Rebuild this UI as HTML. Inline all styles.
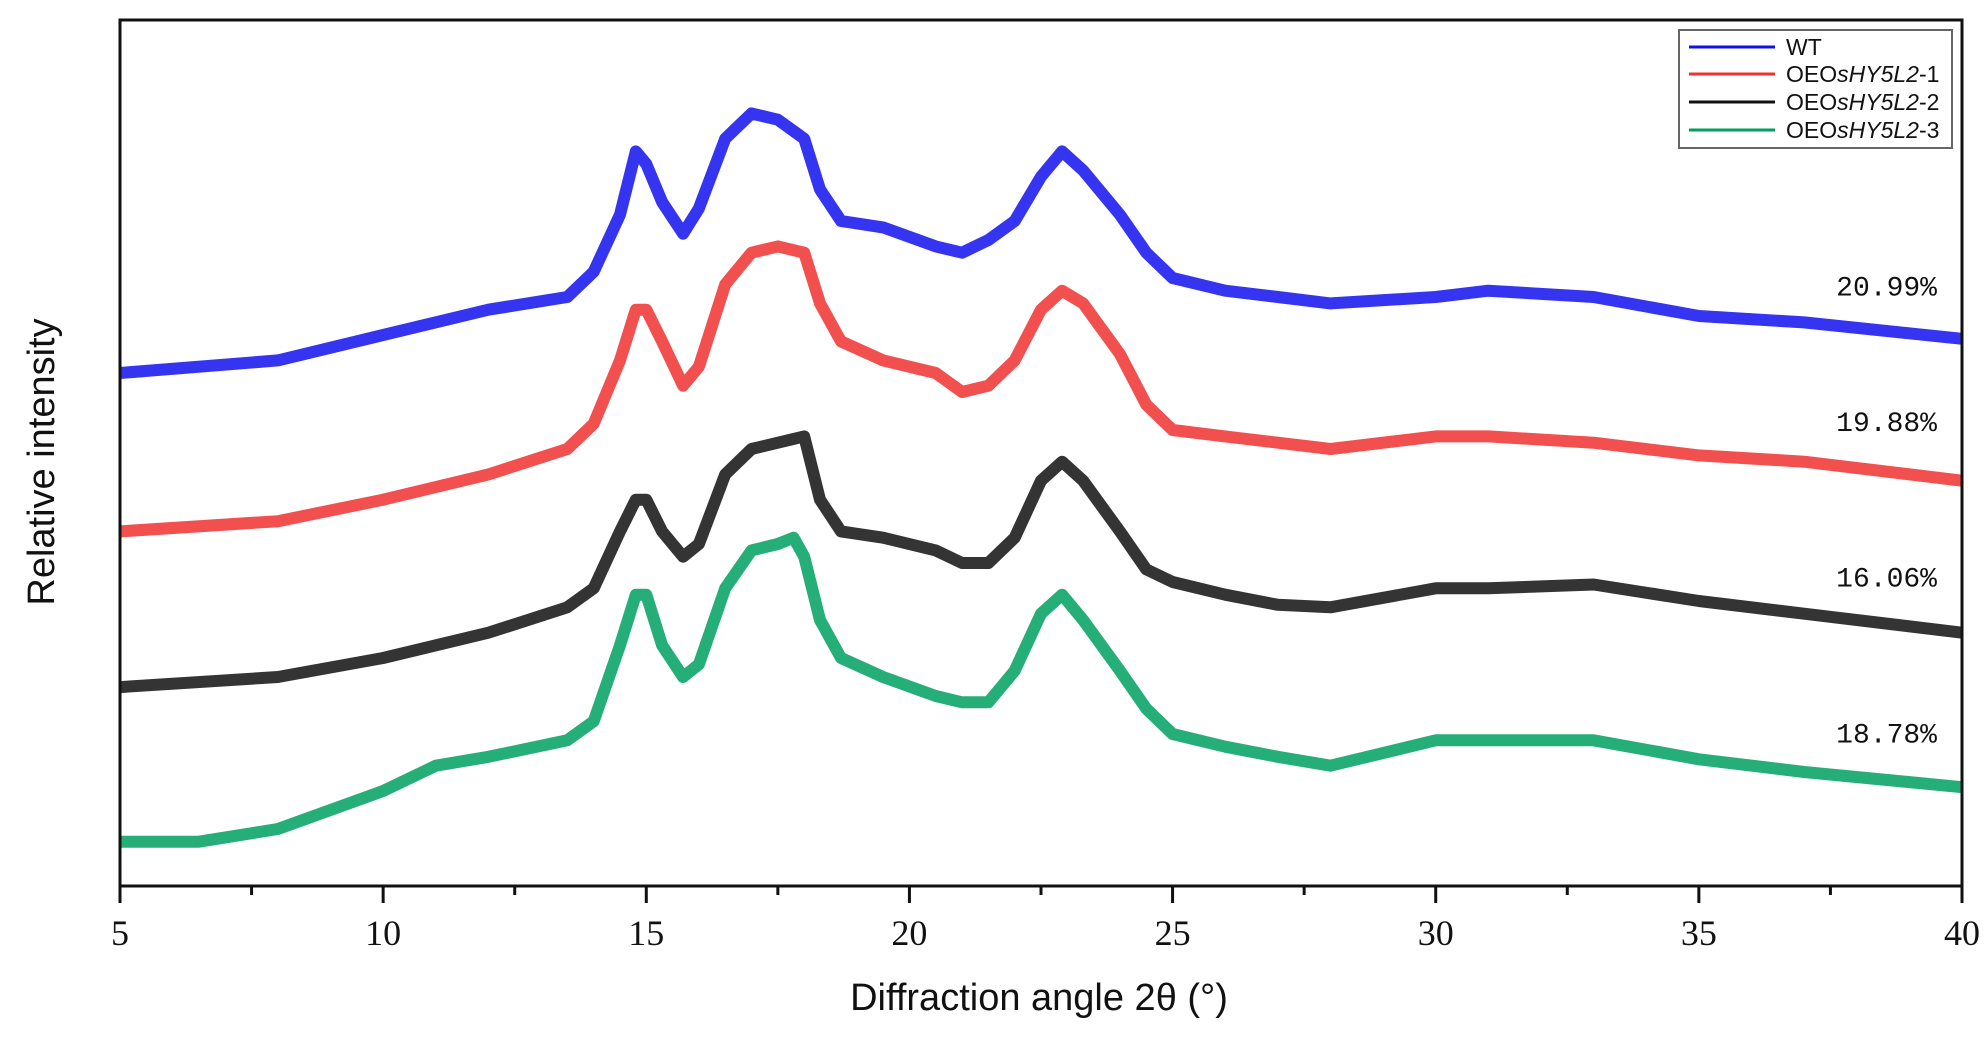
<!DOCTYPE html>
<html><head><meta charset="utf-8"><style>
html,body{margin:0;padding:0;background:#fff;}
svg{display:block;}
</style></head><body>
<svg id="chart" width="1986" height="1037" viewBox="0 0 1986 1037" xmlns="http://www.w3.org/2000/svg">
<rect x="0" y="0" width="1986" height="1037" fill="#fff"/>
<g id="series"></g>
<rect x="120" y="20" width="1842" height="866" fill="none" stroke="#111" stroke-width="3"/>
<g id="xaxis"></g>
<text x="1039" y="1010" font-family="Liberation Sans, sans-serif" font-size="38" text-anchor="middle" fill="#111">Diffraction angle 2θ (°)</text>
<text transform="translate(54,462) rotate(-90)" font-family="Liberation Sans, sans-serif" font-size="38" text-anchor="middle" fill="#111">Relative intensity</text>
<g id="labels"></g>
<g>
<rect x="1679" y="30" width="273" height="118" fill="#fff" stroke="#666" stroke-width="2"/>
<g font-family="Liberation Sans, sans-serif" font-size="23" fill="#111">
<line x1="1689" y1="47" x2="1775" y2="47" stroke="#1010ee" stroke-width="3"/>
<text x="1786" y="55">WT</text>
<line x1="1689" y1="74" x2="1775" y2="74" stroke="#f03030" stroke-width="3"/>
<text x="1786" y="82">OEO<tspan font-style="italic">sHY5L2</tspan>-1</text>
<line x1="1689" y1="102" x2="1775" y2="102" stroke="#111" stroke-width="3"/>
<text x="1786" y="110">OEO<tspan font-style="italic">sHY5L2</tspan>-2</text>
<line x1="1689" y1="130" x2="1775" y2="130" stroke="#00a060" stroke-width="3"/>
<text x="1786" y="138">OEO<tspan font-style="italic">sHY5L2</tspan>-3</text>
</g></g>
</svg>
<script>
const angles = [5,8,10,12,13.5,14,14.5,14.8,15,15.3,15.7,16,16.5,17,17.5,18,18.3,18.7,19.5,20.5,21,21.5,22,22.5,22.9,23.3,24,24.5,25,26,27,28,30,31,33,35,37,40];
const wtValues = [405,415,435,455,465,485,530,580,570,540,515,535,590,610,605,590,550,525,520,505,500,510,525,560,580,565,530,500,480,470,465,460,465,470,465,450,445,432];
const oe1Values = [280,288,305,325,345,365,415,455,455,430,395,410,475,500,505,500,460,430,415,405,390,395,415,455,470,460,420,380,360,355,350,345,355,355,350,340,335,320];
const oe2Values = [157,165,180,200,220,235,280,305,305,280,260,270,325,345,350,355,305,280,275,265,255,255,275,320,335,320,280,250,240,230,222,220,235,235,238,225,215,200];
const oe3Angles = [5,6.5,8,9,10,11,12,13.5,14,14.5,14.8,15,15.3,15.7,16,16.5,17,17.5,17.8,18,18.3,18.7,19.5,20.5,21,21.5,22,22.5,22.9,23.3,24,24.5,25,26,27,28,30,31,33,35,37,40];
const oe3Values = [35,35,45,60,75,95,102,115,130,190,230,230,190,165,175,235,265,270,275,260,210,180,165,150,145,145,170,215,230,210,170,140,120,110,102,95,115,115,115,100,90,78];
const xTicks = [5,10,15,20,25,30,35,40];
const pctLabels = ["20.99%","19.88%","16.06%","18.78%"];
const pctValues = [475,368,245,122];

const X0=120,X1=1962,Y0=886;
function xs(a){return X0+(a-5)/(40-5)*(X1-X0);}
function ys(v){return Y0-v*1.2666;}
const NS="http://www.w3.org/2000/svg";
const sg=document.getElementById('series');
const defs=[["wt",angles,wtValues,"#1010ee"],["oe1",angles,oe1Values,"#f03030"],["oe2",angles,oe2Values,"#111111"],["oe3",oe3Angles,oe3Values,"#00a060"]];
defs.forEach(d=>{
  const p=document.createElementNS(NS,'polyline');
  p.setAttribute('points',d[1].map((a,i)=>xs(a).toFixed(1)+','+ys(d[2][i]).toFixed(1)).join(' '));
  p.setAttribute('fill','none');p.setAttribute('stroke',d[3]);p.setAttribute('stroke-width','12');
  p.setAttribute('stroke-linejoin','round');p.setAttribute('stroke-opacity','0.85');
  
  
  sg.appendChild(p);
});
const xa=document.getElementById('xaxis');
for(let t=5;t<=40;t+=2.5){
  const major=(t%5===0);
  const l=document.createElementNS(NS,'line');
  l.setAttribute('x1',xs(t));l.setAttribute('x2',xs(t));
  l.setAttribute('y1',Y0);l.setAttribute('y2',Y0+(major?17:9));
  l.setAttribute('stroke','#111');l.setAttribute('stroke-width','3');
  
  
  xa.appendChild(l);
}
xTicks.forEach(t=>{
  const tx=document.createElementNS(NS,'text');
  tx.setAttribute('x',xs(t));tx.setAttribute('y',945);
  tx.setAttribute('text-anchor','middle');tx.setAttribute('font-family','Liberation Serif, serif');
  tx.setAttribute('font-size','36');tx.setAttribute('fill','#111');
  tx.textContent=t;
  
  
  xa.appendChild(tx);
});
const lg=document.getElementById('labels');
pctLabels.forEach((s,i)=>{
  const tx=document.createElementNS(NS,'text');
  tx.setAttribute('x',1937);tx.setAttribute('y',ys(pctValues[i])+11);
  tx.setAttribute('text-anchor','end');tx.setAttribute('font-family','Liberation Mono, Noto Sans CJK SC, monospace');
  tx.setAttribute('font-size','28');tx.setAttribute('fill','#111');
  tx.textContent=s;
  
  
  lg.appendChild(tx);
});
</script>
</body></html>
